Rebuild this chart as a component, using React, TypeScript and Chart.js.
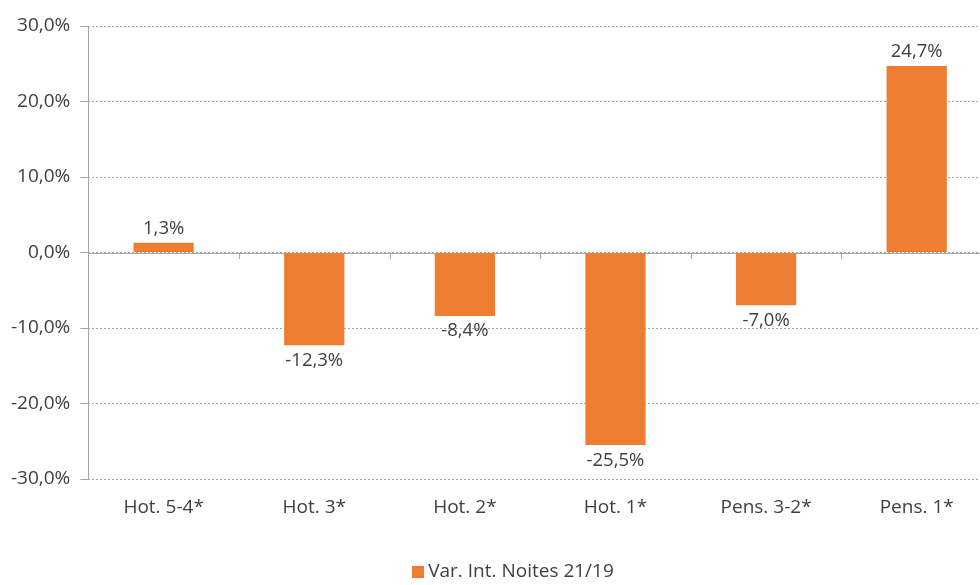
import React, { useEffect, useRef } from "react";
import { Chart, registerables } from "chart.js";

Chart.register(...registerables);

const categories = ["Hot. 5-4*", "Hot. 3*", "Hot. 2*", "Hot. 1*", "Pens. 3-2*", "Pens. 1*"];
const values = [1.3, -12.3, -8.4, -25.5, -7.0, 24.7];
const seriesLabel = "Var. Int. Noites 21/19";
const yMin = -30;
const yMax = 30;
const yStep = 10;

const FONT = "'Open Sans', 'Noto Sans', sans-serif";
const TEXT = "#404040";
const BAR = "#ED7D31";
const AXIS = "#A6A6A6";
const GRID = "#A6A6A6";

const fmt = (v: number) => v.toFixed(1).replace(".", ",") + "%";

const overlay = {
  id: "overlay",
  beforeDatasetsDraw(chart: any) {
    const { ctx, chartArea, scales } = chart;
    const x = scales.x;
    const y = scales.y;
    const y0 = Math.round(y.getPixelForValue(0));
    ctx.save();
    ctx.strokeStyle = AXIS;
    ctx.lineWidth = 1;
    ctx.setLineDash([]);
    ctx.beginPath();
    const lx = Math.round(chartArea.left) + 0.5;
    ctx.moveTo(lx, chartArea.top);
    ctx.lineTo(lx, chartArea.bottom);
    ctx.moveTo(chartArea.left, y0 + 0.5);
    ctx.lineTo(chartArea.right, y0 + 0.5);
    const step = x.getPixelForValue(1) - x.getPixelForValue(0);
    for (let i = 0; i <= categories.length; i++) {
      const px = Math.round(x.getPixelForValue(i) - step / 2) + 0.5;
      ctx.moveTo(px, y0);
      ctx.lineTo(px, y0 + 6);
    }
    ctx.stroke();
    ctx.restore();
  },
  afterDatasetsDraw(chart: any) {
    const { ctx } = chart;
    const meta = chart.getDatasetMeta(0);
    ctx.save();
    ctx.fillStyle = TEXT;
    ctx.font = `18.5px ${FONT}`;
    ctx.textAlign = "center";
    meta.data.forEach((bar: any, i: number) => {
      const v = values[i];
      if (v >= 0) {
        ctx.textBaseline = "bottom";
        ctx.fillText(fmt(v), bar.x, bar.y - 5);
      } else {
        ctx.textBaseline = "top";
        ctx.fillText(fmt(v), bar.x, bar.y + 6);
      }
    });
    ctx.restore();
  },
  afterDraw(chart: any) {
    const { ctx } = chart;
    const ds = chart.data.datasets[0];
    ctx.save();
    ctx.font = `19px ${FONT}`;
    const tw = ctx.measureText(ds.label).width;
    const box = 12;
    const gap = 4;
    const cx = 513;
    const cy = 572;
    const x0 = cx - (box + gap + tw) / 2;
    ctx.fillStyle = ds.backgroundColor;
    ctx.fillRect(Math.round(x0), Math.round(cy - box / 2), box, box);
    ctx.fillStyle = TEXT;
    ctx.textAlign = "left";
    ctx.textBaseline = "middle";
    ctx.fillText(ds.label, x0 + box + gap, cy);
    ctx.restore();
  },
};

export default function App() {
  const ref = useRef<HTMLCanvasElement | null>(null);
  useEffect(() => {
    document.body.style.margin = "0";
    if (!ref.current) return;
    const chart = new Chart(ref.current, {
      type: "bar",
      data: {
        labels: categories,
        datasets: [
          {
            label: seriesLabel,
            data: values,
            backgroundColor: BAR,
            borderWidth: 0,
            categoryPercentage: 1,
            barPercentage: 0.4,
          },
        ],
      },
      options: {
        animation: false,
        responsive: false,
        maintainAspectRatio: false,
        layout: { padding: { top: 26, right: 2, left: 1, bottom: 0 } },
        plugins: {
          legend: { display: false },
          tooltip: { enabled: false },
        },
        scales: {
          x: {
            grid: { display: false },
            border: { display: false },
            ticks: {
              color: TEXT,
              font: { family: FONT, size: 19 },
              padding: 9,
              maxRotation: 0,
            },
            afterFit: (s: any) => {
              s.height = 106;
            },
          },
          y: {
            min: yMin,
            max: yMax,
            ticks: {
              stepSize: yStep,
              color: TEXT,
              font: { family: FONT, size: 19 },
              padding: 10,
              callback: (v: any) => fmt(Number(v)),
            },
            grid: {
              color: GRID,
              lineWidth: 1,
              tickLength: 8,
              tickColor: AXIS,
              tickBorderDash: [],
            },
            border: { display: false, dash: [2, 2] },
          },
        },
      },
      plugins: [overlay],
    });
    return () => chart.destroy();
  }, []);
  return (
    <div style={{ position: "absolute", left: 0, top: 0, width: 980, height: 585, overflow: "hidden", background: "#fff" }}>
      <canvas ref={ref} width={994} height={585} style={{ width: 994, height: 585, display: "block" }} />
    </div>
  );
}
